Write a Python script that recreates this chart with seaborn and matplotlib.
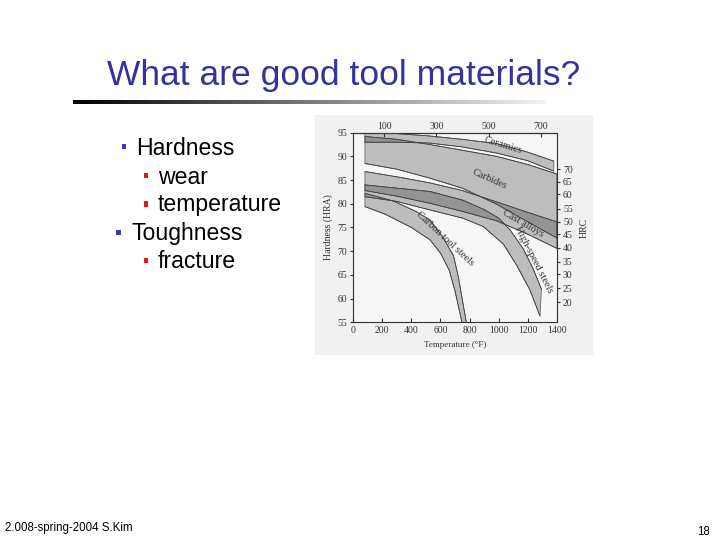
import matplotlib
matplotlib.use("Agg")
import matplotlib.pyplot as plt
import numpy as np
import seaborn as sns
from matplotlib.patches import Rectangle

# ---------------- data ----------------
TEMP_F_TICKS = [0, 200, 400, 600, 800, 1000, 1200, 1400]
TEMP_C_TICKS = [100, 300, 500, 700]
HRA_TICKS = [55, 60, 65, 70, 75, 80, 85, 90, 95]
HRC_LABELS = [70, 65, 60, 55, 50, 45, 40, 35, 30, 25, 20]
HRC_AT_HRA = [87.3, 84.6, 82.0, 79.0, 76.2, 73.6, 70.7, 67.8, 65.1, 62.2, 59.2]

CERAMICS_F = [80, 300, 528, 750, 987, 1200, 1380]
CERAMICS_TOP = [95.0, 94.8, 94.3, 93.6, 92.7, 90.9, 89.0]
CERAMICS_BOT = [93.0, 93.0, 92.8, 92.0, 90.7, 89.1, 86.9]

CARBIDES_F = [80, 300, 528, 750, 987, 1200, 1400]
CARBIDES_TOP = [94.2, 93.6, 92.5, 91.3, 90.0, 88.3, 86.3]
CARBIDES_BOT = [88.5, 87.3, 85.4, 83.3, 79.9, 76.2, 72.8]

CAST_F = [80, 300, 528, 750, 987, 1200, 1400]
CAST_TOP = [86.8, 85.7, 84.4, 82.8, 80.4, 78.2, 76.2]
CAST_BOT = [82.8, 81.6, 80.1, 78.4, 76.4, 73.6, 70.6]

HSS_TOP_F = [80, 300, 528, 750, 900, 1000, 1079, 1170, 1239, 1295]
HSS_TOP = [84.0, 83.3, 82.6, 80.8, 78.8, 77.0, 74.5, 70.5, 66.2, 62.0]
HSS_BOT_F = [80, 300, 528, 750, 895, 1033, 1125, 1216, 1285]
HSS_BOT = [81.5, 80.5, 78.7, 77.0, 75.2, 71.5, 67.0, 61.8, 56.3]

CARBON_TOP_F = [80, 275, 430, 528, 620, 690, 725, 752, 778]
CARBON_TOP = [82.2, 80.6, 78.4, 76.6, 72.8, 69.0, 64.3, 59.5, 55.0]
CARBON_BOT_F = [80, 220, 400, 528, 600, 660, 700, 730, 748]
CARBON_BOT = [79.4, 77.8, 75.0, 72.4, 69.6, 66.0, 61.6, 57.5, 55.0]

BAND_NAMES = ["Ceramics", "Carbides", "Cast alloys", "High-speed steels", "Carbon tool steels"]
BULLETS = ["Hardness", "wear", "temperature", "Toughness", "fracture"]
TITLE = "What are good tool materials?"
FOOTER = "2.008-spring-2004 S.Kim"
PAGE = "18"

# ---------------- styling ----------------
sns.set_style("white")
plt.rcParams['font.family'] = ['Liberation Serif', 'DejaVu Serif']
SANS = ['Liberation Sans', 'DejaVu Sans']
W, H = 720, 540

fig = plt.figure(figsize=(7.2, 5.4), dpi=100)
fig.patch.set_facecolor('white')

def fx(px):
    return px / W

def fy(py):
    return 1 - py / H

# scanned image background
fig.add_artist(Rectangle((fx(315), fy(355)), (593 - 315) / W, (355 - 115) / H,
                         transform=fig.transFigure, facecolor='#f1f1f1',
                         edgecolor='none', zorder=0))

# ---------------- slide text ----------------
fig.text(fx(107), fy(85), TITLE, family=SANS, fontsize=25.5, color='#33339a',
         ha='left', va='baseline')

# gradient underline
gax = fig.add_axes([fx(73), fy(104), (545 - 73) / W, 4 / H])
grad = np.linspace(0.0, 1.0, 256).reshape(1, -1)
gax.imshow(grad, aspect='auto', cmap='gray', vmin=0, vmax=1.05)
gax.set_axis_off()

bullet_x = [121.5, 143.5, 143.5, 116.0, 143.5]
bullet_cy = [146.7, 175.8, 204.0, 232.5, 260.5]
bullet_col = ['#3b3bb0', '#e8141c', '#e8141c', '#3b3bb0', '#e8141c']
text_x = [136.5, 158.0, 158.0, 131.5, 158.0]
text_base = [155.0, 183.5, 211.5, 240.0, 268.0]
for lab, bx, bcy, bc, tx, tb in zip(BULLETS, bullet_x, bullet_cy, bullet_col, text_x, text_base):
    fig.add_artist(Rectangle((fx(bx), fy(bcy + 2.5)), 4.5 / W, 5 / H,
                             transform=fig.transFigure, facecolor=bc,
                             edgecolor='none'))
    fig.text(fx(tx), fy(tb), lab, family=SANS, fontsize=16.6, color='black',
             ha='left', va='baseline')

fig.text(fx(5), fy(531), FOOTER, family=SANS, fontsize=8.3, color='black',
         ha='left', va='baseline')
fig.text(fx(710), fy(535), PAGE, family=SANS, fontsize=8.3, color='black',
         ha='right', va='baseline')

# ---------------- chart ----------------
ax = fig.add_axes([fx(353.3), fy(322.3), (556.7 - 353.3) / W, (322.3 - 132.7) / H])
ax.set_facecolor('#f6f6f6')

bands = [
    (CERAMICS_F, CERAMICS_TOP, CERAMICS_F, CERAMICS_BOT),
    (CARBIDES_F, CARBIDES_TOP, CARBIDES_F, CARBIDES_BOT),
    (CAST_F, CAST_TOP, CAST_F, CAST_BOT),
    (HSS_TOP_F, HSS_TOP, HSS_BOT_F, HSS_BOT),
    (CARBON_TOP_F, CARBON_TOP, CARBON_BOT_F, CARBON_BOT),
]
for tf, th, bf, bh in bands:
    xs = list(tf) + list(bf)[::-1]
    ys = list(th) + list(bh)[::-1]
    ax.fill(xs, ys, facecolor=(0.15, 0.15, 0.15, 0.27), edgecolor=(0.25, 0.25, 0.25, 0.85),
            linewidth=0.5, zorder=2)
    sns.lineplot(x=tf, y=th, sort=False, estimator=None, color='#444444',
                 linewidth=0.6, ax=ax, zorder=3)
    sns.lineplot(x=bf, y=bh, sort=False, estimator=None, color='#444444',
                 linewidth=0.6, ax=ax, zorder=3)

ax.set_xlim(0, 1400)
ax.set_ylim(55, 95)
ax.set_xticks(TEMP_F_TICKS)
ax.set_yticks(HRA_TICKS)
ax.tick_params(axis='x', bottom=True, direction='in', length=3, labelsize=7,
               pad=3, color='#333333', labelcolor='#333333')
ax.tick_params(axis='y', left=True, direction='out', length=2.5, labelsize=7,
               pad=2, color='#333333', labelcolor='#333333')
for s in ax.spines.values():
    s.set_visible(True)
    s.set_color('#333333')
    s.set_linewidth(0.8)
ax.set_xlabel('Temperature (°F)', fontsize=6.5, labelpad=4, color='#333333')
ax.set_ylabel('Hardness (HRA)', fontsize=7, labelpad=3, color='#333333')

sec = ax.secondary_xaxis('top', functions=(lambda f: (f - 32) * 5 / 9,
                                           lambda c: c * 9 / 5 + 32))
sec.set_xticks(TEMP_C_TICKS)
sec.tick_params(direction='in', length=3, labelsize=7, pad=1.5,
                color='#333333', labelcolor='#333333')

ax2 = ax.twinx()
ax2.set_ylim(55, 95)
ax2.set_yticks(HRC_AT_HRA, labels=[str(v) for v in HRC_LABELS])
ax2.tick_params(axis='y', right=True, direction='out', length=2.5, labelsize=7,
                pad=2, color='#333333', labelcolor='#333333')
ax2.set_ylabel('HRC', fontsize=7, labelpad=5, color='#333333')
for s in ax2.spines.values():
    s.set_visible(False)

label_pos = [(1030, 92.3, -17), (941, 85.2, -24), (1170, 75.8, -30),
             (1245, 68.2, -63), (631, 72.7, -43)]
for name, (lx, ly, rot) in zip(BAND_NAMES, label_pos):
    ax.text(lx, ly, name, fontsize=7.5, rotation=rot, rotation_mode='anchor',
            ha='center', va='center', color='#333333', zorder=5)

fig.savefig('out.png', dpi=100)
